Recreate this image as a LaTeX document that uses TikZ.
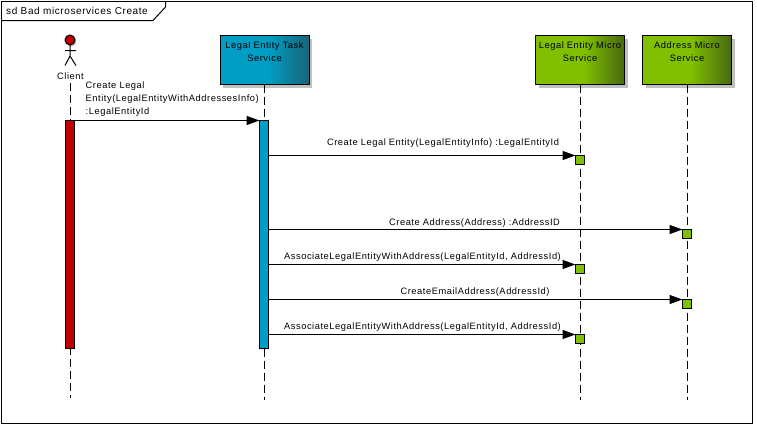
\documentclass[tikz,border=0pt]{standalone}
\usepackage{fontspec}
\setmainfont[LetterSpace=6]{Liberation Sans}
\usetikzlibrary{arrows.meta}
\definecolor{taskblue}{RGB}{0,158,196}
\definecolor{taskdark}{RGB}{24,100,120}
\definecolor{microgreen}{RGB}{128,192,0}
\definecolor{microdark}{RGB}{72,104,16}
\definecolor{clientred}{RGB}{192,0,0}
\definecolor{shadowgray}{RGB}{192,192,192}
\pgfdeclarehorizontalshading{taskfade}{100bp}{color(0bp)=(taskblue); color(52bp)=(taskblue); color(75bp)=(taskdark); color(100bp)=(taskdark)}
\pgfdeclarehorizontalshading{microfade}{100bp}{color(0bp)=(microgreen); color(52bp)=(microgreen); color(75bp)=(microdark); color(100bp)=(microdark)}
\tikzset{
	every node/.style={font=\fontsize{9.3}{13}\selectfont},
	lifebox/.style={draw,line width=1pt,minimum width=89pt,minimum height=49pt,anchor=north,inner sep=0pt,outer sep=0pt},
	lifeline/.style={line width=1pt,dash pattern=on 8pt off 4pt},
	bar/.style={draw,line width=1pt,minimum width=9pt,minimum height=228pt,inner sep=0pt,outer sep=0pt,anchor=north},
	execbox/.style={draw,line width=1pt,fill=microgreen,minimum size=9pt,inner sep=0pt,outer sep=0pt,anchor=north},
	msg/.style={line width=1pt,-{Triangle[length=13pt,width=9pt]}},
	msglabel/.style={inner sep=0pt},
}
\begin{document}
\begin{tikzpicture}[x=1pt,y=-1pt]
	\useasboundingbox (0,0) rectangle (757,424);
	\draw[line width=1pt] (1.5,1.5) rectangle (752,423);
	\draw[line width=1pt] (1.5,20.5) -- (153,20.5) -- (165.5,7) -- (165.5,1.5);
	\node[inner sep=0pt,anchor=west,font=\fontsize{10}{13}\selectfont] (frametitle) at (6,11) {sd Bad microservices Create};

	% actor
	\fill[shadowgray] (71.5,41.5) circle (5);
	\draw[line width=1pt,fill=clientred] (70,40) circle (5);
	\draw[line width=1pt] (70,45) -- (70,56) (65,50.5) -- (76,50.5) (65,65.5) -- (70,56) -- (76,65.5);
	\node[inner sep=0pt,minimum height=13.5pt] (client) at (70.5,76.5) {Client};

	% lifeline heads
	\foreach \x in {264.5,580,687}
		\fill[shadowgray] (\x-41.5,39) rectangle (\x+47.5,88);
	\node[lifebox,shading=taskfade] (task) at (264.5,35.5) {};
	\node[lifebox,shading=microfade] (legal) at (580,35.5) {};
	\node[lifebox,shading=microfade] (address) at (687,35.5) {};
	\node[msglabel,align=center,anchor=north] (tasklabel) at (264.5,42) {Legal Entity Task\\Service};
	\node[msglabel,align=center,anchor=north] (legallabel) at (580,42) {Legal Entity Micro\\Service};
	\node[msglabel,align=center,anchor=north] (addresslabel) at (687,42) {Address Micro\\Service};

	\coordinate (clientend) at (70.5,398);
	\coordinate (taskend) at (264.5,400);
	\coordinate (legalend) at (580,400);
	\coordinate (addressend) at (687,400);
	\draw[lifeline] (client.south) -- (clientend);
	\draw[lifeline] (task.south) -- (taskend);
	\draw[lifeline] (legal.south) -- (legalend);
	\draw[lifeline] (address.south) -- (addressend);

	\node[bar,fill=clientred] (clientbar) at (70,120.5) {};
	\node[bar,fill=taskblue] (taskbar) at (264,120.5) {};

	\node[execbox] (exec1) at (580,155.5) {};
	\node[execbox] (exec2) at (687,229.5) {};
	\node[execbox] (exec3) at (580,264.5) {};
	\node[execbox] (exec4) at (687,299.5) {};
	\node[execbox] (exec5) at (580,334.5) {};

	\draw[msg] (clientbar.north east) -- (taskbar.north west);
	\foreach \n in {1,...,5}
		\draw[msg] (taskbar.east |- exec\n.north west) -- (exec\n.north west);

	\node[msglabel,align=left,anchor=north west] (msg0) at (85.5,81.5) {Create Legal\\Entity(LegalEntityWithAddressesInfo)\\:LegalEntityId};
	\node[msglabel] (msg1) at (443,143.5) {Create Legal Entity(LegalEntityInfo) :LegalEntityId};
	\node[msglabel] (msg2) at (474.5,223) {Create Address(Address) :AddressID};
	\node[msglabel] (msg3) at (422.5,257.5) {AssociateLegalEntityWithAddress(LegalEntityId, AddressId)};
	\node[msglabel] (msg4) at (475,292) {CreateEmailAddress(AddressId)};
	\node[msglabel] (msg5) at (422.5,327.5) {AssociateLegalEntityWithAddress(LegalEntityId, AddressId)};
\end{tikzpicture}
\end{document}
